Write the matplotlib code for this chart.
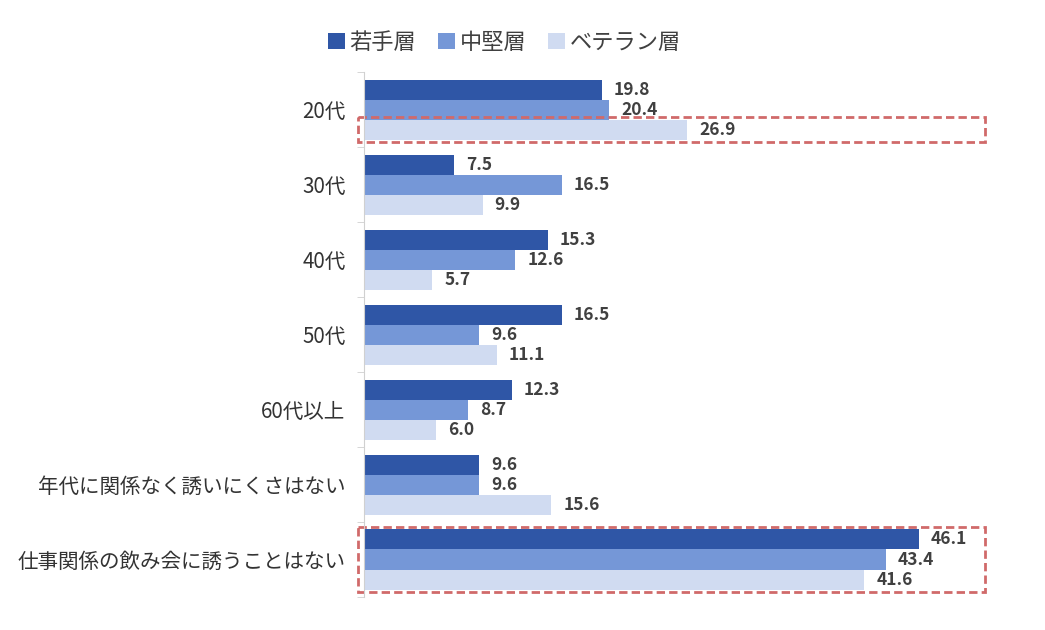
import numpy as np
import matplotlib
matplotlib.use('Agg')
import matplotlib.pyplot as plt
from matplotlib.patches import Rectangle

plt.rcParams['font.family'] = ['Noto Sans CJK JP', 'DejaVu Sans']

categories = ['20代', '30代', '40代', '50代', '60代以上',
              '年代に関係なく誘いにくさはない', '仕事関係の飲み会に誘うことはない']
series_names = ['若手層', '中堅層', 'ベテラン層']
young = [19.8, 7.5, 15.3, 16.5, 12.3, 9.6, 46.1]
middle = [20.4, 16.5, 12.6, 9.6, 8.7, 9.6, 43.4]
veteran = [26.9, 9.9, 5.7, 11.1, 6.0, 15.6, 41.6]
colors = ['#2F56A6', '#7597D7', '#D0DBF1']

fig = plt.figure(figsize=(10.45, 6.3), dpi=100)
ax = fig.add_axes([0.348, 0.0524, 0.599, 0.833])

y = np.arange(len(categories))
h = 0.267
for i, (vals, c, name) in enumerate(zip([young, middle, veteran], colors, series_names)):
    pos = y + (i - 1) * h
    ax.barh(pos, vals, height=h, color=c, label=name)
    for p, v in zip(pos, vals):
        ax.annotate(f'{v:.1f}', (v, p), xytext=(8.5, 0), textcoords='offset points',
                    va='center', ha='left', fontsize=12.5, fontweight='bold', color='#404040')

ax.set_xlim(0, 52)
ax.set_ylim(len(categories) - 0.5, -0.5)
ax.set_yticks(y)
ax.set_yticklabels(categories, fontsize=14.8, color='#333333')
ax.set_yticks(np.arange(-0.5, len(categories)), minor=True)
ax.tick_params(axis='y', which='major', length=0, pad=13)
ax.tick_params(axis='y', which='minor', length=5, color='#D0D0D0')
ax.set_xticks([])
for s in ['top', 'right', 'bottom']:
    ax.spines[s].set_visible(False)
ax.spines['left'].set_color('#D0D0D0')

# highlight boxes
box_kw = dict(fill=False, edgecolor='#D06A6A', linestyle=(0, (3, 1.5)), linewidth=2, clip_on=False)
ax.add_patch(Rectangle((-0.5, 0 + h - h / 2 - 0.03), 52.1, h + 0.06, **box_kw))
ax.add_patch(Rectangle((-0.5, 6 - 1.5 * h - 0.03), 52.1, 3 * h + 0.06, **box_kw))

ax.legend(loc='center', bbox_to_anchor=(0.225, 1.057), ncol=3, frameon=False,
          fontsize=16, handlelength=0.75, handleheight=0.75, handletextpad=0.2,
          columnspacing=1.0, labelcolor='#404040')

fig.savefig('out.png', dpi=100)
